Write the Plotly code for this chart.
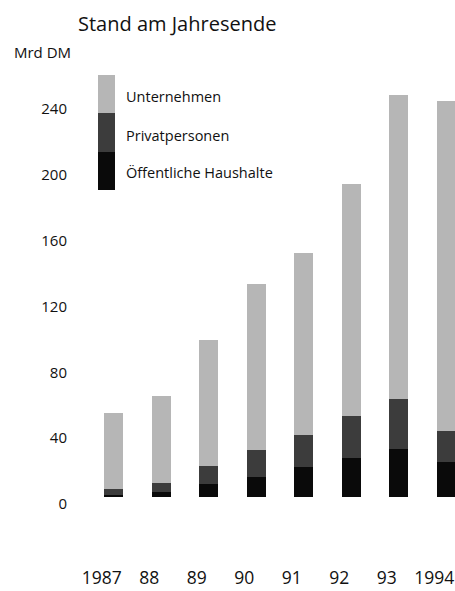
import plotly.graph_objects as go

# ---- data (Mrd DM, Stand am Jahresende) ----
years = ["1987", "88", "89", "90", "91", "92", "93", "1994"]
oeffentliche = [1, 3, 8, 12, 18, 24, 29, 21]
privat = [4, 5.5, 11, 16.5, 19.5, 25, 30.5, 19]
unternehmen = [46, 53, 76.5, 101, 110.5, 141, 184.5, 200.5]
y_ticks = [0, 40, 80, 120, 160, 200, 240]

series = [
    ("Öffentliche Haushalte", oeffentliche, "#0a0a0a"),
    ("Privatpersonen", privat, "#3c3c3c"),
    ("Unternehmen", unternehmen, "#b6b6b6"),
]

W, H = 455, 591
L, R, T, B = 90, 0, 86, 591 - 497
pw, ph = W - L - R, H - T - B

def px(x):  # page pixel -> paper
    return (x - L) / pw

def py(y):
    return (H - B - y) / ph

FONT = "Open Sans"

fig = go.Figure()
for name, vals, col in series:
    fig.add_trace(go.Bar(x=years, y=vals, name=name, marker=dict(color=col, line=dict(width=0)),
                         showlegend=False, hoverinfo="skip"))

fig.update_layout(
    width=W, height=H,
    margin=dict(l=L, r=R, t=T, b=B, pad=0),
    barmode="stack", bargap=0.6,
    plot_bgcolor="white", paper_bgcolor="white",
    font=dict(family=FONT, color="#111111"),
    xaxis=dict(type="category", range=[-0.5, -0.5 + pw / 47.5], showgrid=False, zeroline=False,
               showline=False, ticks="", tickfont=dict(size=17.5, color="#111"),
               ticklabelstandoff=68, ticklabelshift=-12),
    yaxis=dict(range=[0, ph / 1.646], tickvals=y_ticks, showgrid=False, zeroline=False,
               showline=False, ticks="", tickfont=dict(size=15, color="#111"),
               ticklabelstandoff=22, ticklabelshift=7),
)

# title and unit
fig.add_annotation(text="Stand am Jahresende", xref="paper", yref="paper", x=px(76), y=py(23),
                   xanchor="left", yanchor="middle", showarrow=False, font=dict(size=20, color="#111"))
fig.add_annotation(text="Mrd DM", xref="paper", yref="paper", x=px(12), y=py(52),
                   xanchor="left", yanchor="middle", showarrow=False, font=dict(size=15, color="#111"))

# legend: stacked swatch column with labels
legend_rows = [("Unternehmen", "#b6b6b6", 75, 113, 97),
               ("Privatpersonen", "#3c3c3c", 113, 152, 135),
               ("Öffentliche Haushalte", "#0a0a0a", 152, 190, 172)]
for name, col, y0, y1, yc in legend_rows:
    fig.add_shape(type="rect", xref="paper", yref="paper", x0=px(98), x1=px(115), y0=py(y1), y1=py(y0),
                  fillcolor=col, line=dict(width=0), layer="above")
    fig.add_annotation(text=name, xref="paper", yref="paper", x=px(124), y=py(yc), xanchor="left",
                       yanchor="middle", showarrow=False, font=dict(size=14.5, color="#111"))

fig.write_html(
    "out.html",
    config={"displayModeBar": False},
    post_script="document.body.style.margin='0';document.documentElement.style.overflow='hidden';",
)
